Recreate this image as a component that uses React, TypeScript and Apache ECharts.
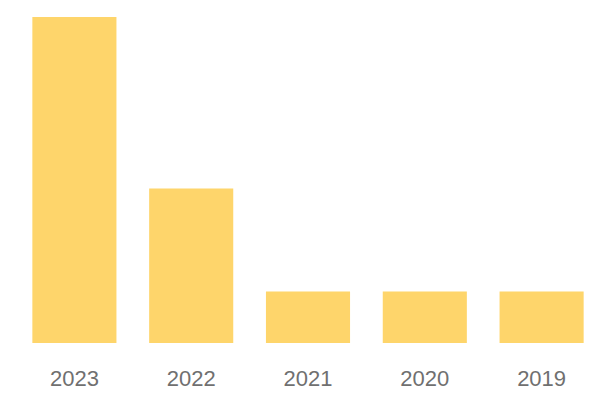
import React, { useEffect, useRef } from "react";
import * as echarts from "echarts";

const categories = ["2023", "2022", "2021", "2020", "2019"];
const values = [19, 9, 3, 3, 3];

export default function App() {
  const ref = useRef<HTMLDivElement>(null);
  useEffect(() => {
    const chart = echarts.init(ref.current!, null, { renderer: "svg" });
    chart.setOption({
      animation: false,
      grid: { left: 16, right: 0, top: 17, bottom: 57 },
      xAxis: {
        type: "category",
        data: categories,
        axisLine: { show: false },
        axisTick: { show: false },
        axisLabel: {
          color: "#707070",
          fontSize: 22,
          fontFamily: "Liberation Sans",
          margin: 24,
        },
      },
      yAxis: {
        type: "value",
        min: 0,
        max: 19,
        show: false,
        splitLine: { show: false },
      },
      series: [
        {
          type: "bar",
          data: values,
          barCategoryGap: "28%",
          itemStyle: { color: "#fed56b" },
        },
      ],
    });
    return () => chart.dispose();
  }, []);
  return <div ref={ref} style={{ width: 600, height: 400, position: "absolute", left: 0, top: 0 }} />;
}
